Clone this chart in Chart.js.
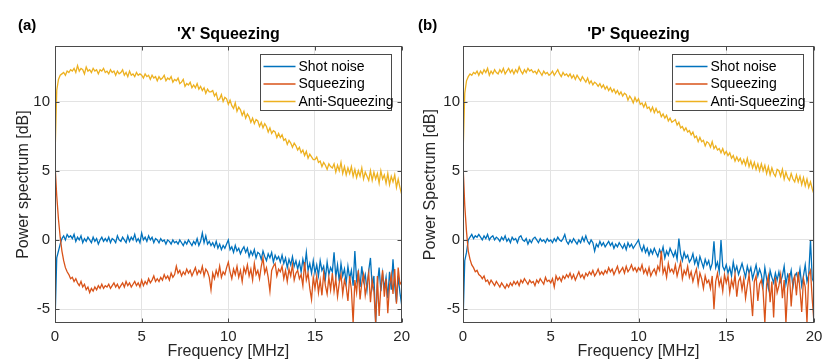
<!DOCTYPE html>
<html lang="en">
<head>
<meta charset="UTF-8">
<title>X and P squeezing spectra</title>
<style>
  body { margin: 0; background: #fff; }
  #wrap { position: relative; width: 830px; height: 363px; }
  canvas { position: absolute; top: 0; }
  #chartX { left: 0; }
  #chartP { left: 415px; }
</style>
</head>
<body>
<div id="wrap">
  <canvas id="chartX" width="415" height="363"></canvas>
  <canvas id="chartP" width="415" height="363"></canvas>
</div>
<script src="https://cdn.jsdelivr.net/npm/chart.js"></script>
<script>
// frequency grid, 0..20 MHz in 0.1 MHz steps
const freq = Array.from({ length: 201 }, (_, i) => +(i * 0.1).toFixed(1));
const xTicks = [0, 5, 10, 15, 20];
const yTicks = [-5, 0, 5, 10];

// (a) 'X' squeezing, values in dB, one row per MHz
const shotX = [
  -6.0, -1.3, -0.8, -0.3, 0.1, 0.3, 0.0, 0.4, 0.2, 0.3,
  0.1, 0.4, -0.1, 0.2, 0.0, 0.3, -0.2, 0.1, -0.1, 0.2,
  0.0, -0.2, 0.2, -0.1, 0.1, -0.3, 0.0, 0.2, -0.1, 0.1,
  -0.1, 0.2, -0.2, 0.1, 0.0, -0.2, 0.3, 0.0, -0.1, 0.2,
  0.0, -0.2, 0.3, -0.1, 0.2, 0.0, 0.4, -0.1, 0.1, -0.2,
  0.5, 0.0, 0.2, -0.1, 0.3, 0.0, 0.2, -0.2, 0.1, 0.0,
  -0.2, 0.1, -0.1, 0.0, -0.3, 0.0, -0.1, -0.3, 0.0, -0.2,
  -0.1, -0.3, 0.0, -0.2, -0.4, -0.1, -0.3, 0.0, -0.2, -0.4,
  -0.1, -0.3, 0.1, -0.4, -0.1, 0.5, -0.2, 0.3, -0.3, -0.1,
  -0.4, -0.2, -0.5, -0.1, -0.6, -0.3, -0.7, -0.4, -0.6, -0.3,
  0.0, -0.7, -0.5, -0.9, -0.4, -0.8, -0.6, -1.0, -0.7, -0.5,
  -0.9, -0.6, -1.2, -0.8, -1.1, -0.7, -1.3, -0.9, -1.0, -1.4,
  -0.8, -1.2, -1.5, -1.0, -1.3, -0.9, -1.6, -1.1, -1.4, -1.2,
  -1.6, -1.1, -1.7, -1.3, -2.0, -1.4, -1.8, -1.2, -1.9, -1.5,
  -2.1, -1.6, -2.3, -1.4, -2.0, -0.9, -2.2, -1.7, -2.4, -1.5,
  -2.4, -1.8, -2.6, -1.5, -2.2, -1.9, -2.8, -1.6, -2.5, -2.0,
  -2.3, -0.9, -2.7, -1.8, -3.0, -1.7, -2.6, -2.1, -3.1, -1.9,
  -2.8, -2.2, -3.3, -0.8, -2.9, -2.3, -3.4, -1.9, -3.0, -2.5,
  -3.6, -2.2, -1.3, -3.4, -2.6, -6.0, -3.2, -2.0, -3.7, -2.4,
  -3.5, -2.7, -4.2, -2.3, -3.6, -1.4, -3.3, -4.5, -2.6, -3.8,
  -4.7
];
const squeezeX = [
  5.5, 3.2, 1.5, 0.2, -0.8, -1.5, -2.0, -2.3, -2.5, -2.8,
  -2.7, -3.0, -2.8, -3.1, -3.3, -3.0, -3.4, -3.2, -3.6, -3.4,
  -3.8, -3.5, -3.7, -3.4, -3.6, -3.3, -3.5, -3.2, -3.5, -3.3,
  -3.4, -3.2, -3.5, -3.3, -3.1, -3.4, -3.2, -3.5, -3.3, -3.1,
  -3.4, -3.0, -3.3, -3.1, -3.4, -3.2, -3.0, -3.3, -3.1, -3.4,
  -2.9, -3.3, -3.0, -3.2, -2.8, -3.1, -2.9, -2.6, -3.0, -2.8,
  -3.0, -2.7, -2.9, -2.5, -2.8, -2.6, -2.9, -2.4, -2.7, -2.5,
  -1.9, -2.4, -2.2, -2.6, -2.3, -2.5, -2.1, -2.4, -2.2, -2.6,
  -2.3, -2.0, -2.5, -2.2, -2.4, -1.9, -2.6, -2.1, -2.3, -2.7,
  -3.6, -2.4, -2.8, -2.2, -2.6, -1.9, -2.7, -2.3, -2.5, -2.0,
  -1.6, -2.3, -2.8, -2.1, -2.5, -1.9, -2.7, -2.2, -3.0, -2.0,
  -2.4, -1.8, -2.6, -2.1, -2.9, -1.7, -2.5, -2.2, -2.8, -1.9,
  -1.3, -2.4, -2.0, -2.7, -3.7, -2.2, -1.9, -1.7, -2.6, -2.1,
  -2.3, -1.9, -2.8, -2.2, -3.0, -2.1, -2.6, -1.8, -2.9, -2.4,
  -2.2, -2.8, -2.5, -3.3, -1.6, -2.9, -2.4, -3.5, -4.3, -2.7,
  -3.5, -2.6, -3.8, -2.9, -4.0, -2.4, -3.3, -3.9, -2.7, -3.6,
  -2.4, -3.7, -2.8, -4.1, -3.1, -2.5, -3.9, -2.9, -3.4, -4.4,
  -2.6, -3.6, -6.0, -2.9, -3.8, -2.2, -4.3, -3.1, -2.5, -4.0,
  -3.2, -2.4, -4.5, -2.9, -3.7, -6.0, -2.6, -5.5, -3.4, -2.2,
  -4.1, -2.8, -5.3, -3.3, -2.5, -3.9, -2.1, -4.6, -2.0, -3.2,
  -3.0
];
const antiX = [
  6.0, 10.8, 11.6, 11.9, 12.0, 12.1, 11.9, 12.2, 12.1, 12.3,
  12.2, 12.4, 12.1, 12.6, 12.2, 12.4, 12.3, 12.0, 12.5, 12.2,
  12.3, 12.1, 12.4, 12.2, 12.3, 12.0, 12.3, 12.2, 12.4, 12.1,
  12.2, 12.0, 12.3, 12.1, 12.2, 11.9, 12.2, 12.0, 12.1, 12.3,
  11.9, 12.1, 11.8, 12.2, 11.9, 12.0, 11.8, 12.1, 11.9, 12.0,
  11.9, 11.7, 12.0, 11.8, 11.9, 11.6, 11.9, 11.7, 11.8, 11.5,
  11.8, 11.6, 11.7, 11.9, 11.5, 11.7, 11.6, 11.8, 11.4, 11.6,
  11.5, 11.7, 11.3, 11.4, 11.6, 11.1, 11.3, 11.2, 11.4, 11.0,
  11.2, 11.0, 11.3, 10.9, 11.1, 10.8, 11.0, 10.6, 10.9, 10.7,
  10.7, 10.8, 10.4, 10.6, 10.1, 10.2, 10.5, 10.0, 10.3, 10.2,
  9.8, 10.1, 9.7, 9.5, 9.9, 9.3, 9.6, 9.4, 9.0, 9.3,
  8.8, 9.1, 8.9, 8.5, 8.8, 8.4, 8.7, 8.6, 8.2, 8.5,
  8.1, 8.4, 8.2, 7.8, 8.1, 7.7, 7.9, 7.8, 7.4, 7.7,
  7.4, 7.6, 7.2, 7.3, 6.9, 7.2, 7.0, 6.7, 7.0, 6.8,
  6.5, 6.7, 6.3, 6.5, 6.1, 6.4, 5.9, 6.2, 6.0, 5.8,
  5.8, 6.0, 5.6, 5.7, 5.3, 5.6, 5.4, 5.1, 5.5, 5.3,
  5.2, 5.5, 4.9, 5.4, 5.0, 5.6, 4.8, 5.3, 4.7, 5.2,
  4.8, 5.3, 4.6, 5.1, 4.5, 5.0, 4.6, 5.2, 4.4, 4.9,
  4.6, 4.3, 5.0, 4.3, 4.9, 4.4, 4.8, 4.1, 5.0, 4.4,
  4.7, 4.1, 4.8, 4.0, 4.6, 4.2, 4.7, 3.8, 4.4, 3.8,
  3.3
];

// (b) 'P' squeezing
const shotP = [
  -6.0, -1.5, -0.9, 0.0, 0.2, 0.4, 0.1, 0.3, 0.2, 0.4,
  0.2, 0.0, 0.3, 0.1, 0.4, 0.0, 0.2, 0.3, 0.0, 0.2,
  0.1, -0.1, 0.2, 0.0, 0.3, -0.1, 0.1, -0.2, 0.2, 0.0,
  0.1, -0.2, 0.2, 0.3, 0.0, -0.1, 0.1, -0.3, 0.0, -0.2,
  0.1, 0.2, 0.0, -0.2, 0.1, -0.1, 0.0, -0.2, 0.1, -0.1,
  0.0, -0.2, 0.1, -0.1, 0.2, 0.0, -0.1, 0.1, 0.4, -0.1,
  -0.3, 0.0, -0.2, 0.1, -0.1, -0.3, 0.0, -0.2, 0.2, -0.1,
  0.3, -0.1, -0.3, 0.0, -0.2, -0.8, -0.3, -0.5, -0.1, -0.4,
  -0.2, -0.5, -0.3, -0.1, -0.4, -0.2, -0.6, -0.3, -0.5, -0.2,
  -0.4, -0.6, -0.3, -0.7, -0.2, -0.5, -0.3, -0.6, -0.4, -0.2,
  0.0, -0.5, -0.8, -0.4, -0.9, -0.6, -1.1, -0.7, -1.0, -0.6,
  -0.9, -1.2, -0.7, -1.0, -0.5, -1.3, -0.8, -1.1, -0.6, -0.9,
  -1.2, -0.8, -1.4, 0.1, -1.0, -1.5, -0.9, -1.3, -1.1, -1.6,
  -1.4, -1.0, -1.7, -1.3, -1.9, -1.2, -1.6, -2.0, -1.4, -1.8,
  -1.5, -2.1, -1.7, -0.1, -2.0, -1.6, -2.3, 0.0, -1.9, -2.2,
  -1.8, -2.4, -2.0, -2.6, -1.6, -2.3, -1.9, -2.5, -2.1, -1.7,
  -2.2, -2.7, -1.9, -2.4, -2.0, -2.8, -2.3, -1.8, -2.6, -2.1,
  -2.5, -3.3, -2.0, -2.8, -3.5, -2.2, -2.7, -3.1, -2.4, -2.9,
  -2.3, -3.0, -2.6, -1.9, -3.2, -2.5, -2.8, -2.2, -3.4, -2.6,
  -2.4, -2.9, -2.1, -3.3, -2.6, -1.8, -3.0, -2.5, 0.0, -2.8,
  -3.1
];
const squeezeP = [
  5.5, 2.5, 0.6, -0.8, -1.4, -1.8, -2.0, -2.3, -2.2, -2.5,
  -2.6, -2.8, -2.6, -3.0, -2.9, -3.2, -2.9, -3.1, -3.3, -3.0,
  -3.2, -3.4, -3.1, -3.3, -3.5, -3.2, -3.4, -3.1, -3.3, -3.0,
  -3.2, -3.0, -3.3, -2.9, -3.1, -2.8, -3.0, -3.2, -2.9, -3.1,
  -3.0, -3.3, -2.9, -3.1, -2.8, -3.0, -3.2, -2.7, -3.0, -2.9,
  -3.1, -2.8, -3.4, -2.6, -2.9, -2.7, -3.0, -2.6, -2.8, -2.5,
  -2.7, -2.4, -2.8, -2.5, -2.9, -2.6, -2.3, -2.7, -2.5, -2.8,
  -2.4, -2.6, -2.3, -2.5, -2.2, -2.6, -2.4, -2.1, -2.5, -2.3,
  -2.5, -2.2, -2.4, -2.0, -2.3, -2.1, -2.5, -2.2, -1.9, -2.4,
  -2.2, -2.0, -2.4, -1.9, -2.3, -2.1, -1.8, -2.2, -2.0, -2.3,
  -2.0, -2.2, -1.8, -2.4, -2.1, -2.5, -2.0, -2.6, -2.3, -2.1,
  -2.5, -1.9, -2.2, -0.8, -2.4, -2.0, -2.7, -1.7, -2.3, -2.1,
  -2.4, -1.8, -2.6, -2.1, -1.6, -2.8, -2.2, -2.5, -1.9, -2.7,
  -2.3, -3.0, -2.5, -2.1, -3.2, -2.4, -2.8, -3.5, -2.6, -3.1,
  -2.9, -3.5, -2.6, -5.0, -3.0, -2.4, -3.3, -2.8, -3.7, -2.5,
  -3.1, -2.6, -3.8, -2.9, -3.4, -2.5, -4.1, -3.0, -2.7, -3.6,
  -2.8, -4.2, -3.3, -2.5, -3.9, -5.5, -3.0, -2.6, -4.4, -3.2,
  -2.9, -3.7, -6.0, -3.2, -2.6, -4.5, -3.0, -5.6, -2.7, -3.8,
  -3.3, -2.5, -4.2, -2.9, -6.0, -3.5, -2.4, -4.8, -3.0, -2.6,
  -4.0, -2.3, -3.6, -5.2, -2.8, -3.4, -6.0, -2.5, -2.2, -4.3,
  -6.0
];
const antiP = [
  6.0, 10.6, 11.5, 11.8, 12.0, 11.9, 12.1, 12.0, 12.2, 11.9,
  12.2, 12.0, 12.3, 12.1, 12.4, 11.9, 12.2, 12.0, 12.3, 12.1,
  12.0, 12.3, 12.1, 12.4, 12.0, 12.2, 12.4, 12.1, 12.3, 12.0,
  12.3, 12.1, 12.5, 12.2, 12.0, 12.3, 12.1, 12.4, 12.2, 12.3,
  12.1, 12.2, 12.0, 12.3, 12.1, 11.9, 12.2, 12.0, 12.1, 11.9,
  12.0, 12.2, 11.9, 12.1, 12.3, 12.0, 11.8, 12.1, 11.9, 12.0,
  11.8, 12.0, 11.7, 11.9, 11.6, 11.9, 11.7, 11.5, 11.8, 11.6,
  11.4, 11.7, 11.3, 11.5, 11.2, 11.4, 11.3, 11.1, 11.3, 11.0,
  11.2, 10.9, 11.1, 10.8, 11.0, 10.7, 10.9, 10.6, 10.8, 10.5,
  10.7, 10.4, 10.6, 10.5, 10.1, 10.4, 10.2, 9.9, 10.3, 10.0,
  10.2, 9.8, 9.9, 9.6, 9.9, 9.5, 9.6, 9.3, 9.6, 9.2,
  9.5, 9.2, 9.3, 8.9, 9.1, 8.8, 9.0, 8.6, 8.8, 8.5,
  8.6, 8.7, 8.3, 8.5, 8.1, 8.2, 7.9, 8.1, 7.8, 7.9,
  7.6, 7.8, 7.4, 7.5, 7.1, 7.4, 7.1, 7.2, 6.8, 7.1,
  7.0, 6.7, 7.1, 6.6, 6.8, 6.5, 6.6, 6.3, 6.6, 6.2,
  6.4, 6.1, 6.3, 5.9, 6.1, 5.7, 6.0, 5.7, 5.9, 5.5,
  5.8, 5.4, 5.9, 5.3, 5.7, 5.2, 5.6, 5.1, 5.5, 5.0,
  5.5, 5.0, 5.4, 4.8, 5.3, 4.7, 5.2, 4.8, 4.6, 5.1,
  5.0, 4.6, 5.1, 4.4, 4.9, 4.5, 4.3, 4.8, 4.4, 4.2,
  4.7, 4.2, 4.6, 4.0, 4.5, 3.9, 4.4, 3.8, 4.2, 3.7,
  3.3
];

const FONT = '"Liberation Sans", Arial, Helvetica, sans-serif';
const TEXT = '#262626';
const AXIS = '#4a4a4a';

const pts = vals => freq.map((f, i) => ({ x: f, y: vals[i] }));

// box, inward ticks, legend inside the axes and the (a)/(b) tag
const framePlugin = {
  id: 'frame',
  afterDraw(chart, args, o) {
    const { ctx, chartArea: a, scales } = chart;
    const L = Math.round(a.left) + 0.5, R = Math.round(a.right) - 0.5;
    const T = Math.round(a.top) + 0.5, B = Math.round(a.bottom) - 0.5;
    ctx.save();
    ctx.strokeStyle = AXIS;
    ctx.lineWidth = 1;
    ctx.strokeRect(L, T, R - L, B - T);
    ctx.beginPath();
    xTicks.forEach(v => {
      const px = Math.round(scales.x.getPixelForValue(v)) + 0.5;
      ctx.moveTo(px, B); ctx.lineTo(px, B - 4);
      ctx.moveTo(px, T); ctx.lineTo(px, T + 4);
    });
    yTicks.forEach(v => {
      const py = Math.round(scales.y.getPixelForValue(v)) + 0.5;
      ctx.moveTo(L, py); ctx.lineTo(L + 4, py);
      ctx.moveTo(R, py); ctx.lineTo(R - 4, py);
    });
    ctx.stroke();

    // legend
    const lw = 131, lh = 56;
    const lx = Math.round(a.right - 11 - lw) + 0.5, ly = Math.round(a.top + 8) + 0.5;
    ctx.fillStyle = '#fff';
    ctx.fillRect(lx, ly, lw, lh);
    ctx.strokeStyle = AXIS;
    ctx.strokeRect(lx, ly, lw, lh);
    ctx.font = '14px ' + FONT;
    ctx.textBaseline = 'middle';
    ctx.textAlign = 'left';
    chart.data.datasets.forEach((ds, i) => {
      const y = ly + 12 + i * 17.5;
      ctx.strokeStyle = ds.borderColor;
      ctx.lineWidth = 1.5;
      ctx.beginPath();
      ctx.moveTo(lx + 3, y); ctx.lineTo(lx + 35, y);
      ctx.stroke();
      ctx.fillStyle = '#000';
      ctx.fillText(ds.label, lx + 38, y + 0.5);
    });

    ctx.font = 'bold 15px ' + FONT;
    ctx.fillStyle = '#000';
    ctx.fillText(o.tag, o.tagX, 26);
    ctx.restore();
  }
};

function makeChart(id, p) {
  return new Chart(document.getElementById(id), {
    type: 'line',
    data: {
      datasets: [
        { label: 'Shot noise', data: pts(p.shot), borderColor: '#0072BD', order: 3 },
        { label: 'Squeezing', data: pts(p.squeeze), borderColor: '#D95319', order: 2 },
        { label: 'Anti-Squeezing', data: pts(p.anti), borderColor: '#EDB120', order: 1 }
      ]
    },
    options: {
      responsive: false,
      animation: false,
      devicePixelRatio: 1,
      layout: { padding: { left: 0, right: p.padRight, top: 0, bottom: 0 } },
      elements: { point: { radius: 0 }, line: { borderWidth: 1.3, tension: 0, fill: false } },
      plugins: {
        legend: { display: false },
        tooltip: { enabled: false },
        title: {
          display: true, text: p.title, fullSize: false, color: '#000',
          font: { family: FONT, size: 16, weight: 'bold' },
          padding: { top: 25, bottom: 2 }
        },
        frame: { tag: p.tag, tagX: p.tagX }
      },
      scales: {
        x: {
          type: 'linear', min: 0, max: 20,
          afterBuildTicks: s => { s.ticks = xTicks.map(v => ({ value: v })); },
          afterFit: s => { s.height = 40; },
          grid: { color: '#e3e3e3', drawTicks: false },
          border: { display: false },
          ticks: { color: TEXT, font: { family: FONT, size: 15 }, padding: 5, maxRotation: 0, autoSkip: false },
          title: { display: true, text: 'Frequency [MHz]', color: TEXT, font: { family: FONT, size: 16 }, padding: { top: 0, bottom: 2 } }
        },
        y: {
          min: -6, max: 14,
          afterBuildTicks: s => { s.ticks = yTicks.map(v => ({ value: v })); },
          afterFit: s => { s.width = p.yWidth; },
          grid: { color: '#e3e3e3', drawTicks: false },
          border: { display: false },
          ticks: { color: TEXT, font: { family: FONT, size: 15 }, padding: p.yTickPad },
          title: { display: true, text: p.yTitle, color: TEXT, font: { family: FONT, size: 16 }, padding: { top: p.yTitlePad, bottom: 0 } }
        }
      }
    },
    plugins: [framePlugin]
  });
}

makeChart('chartX', {
  title: "'X' Squeezing", tag: '(a)', tagX: 18, yTitle: 'Power spectrum [dB]',
  shot: shotX, squeeze: squeezeX, anti: antiX,
  yWidth: 55, padRight: 8, yTickPad: 5, yTitlePad: 14
});
makeChart('chartP', {
  title: "'P' Squeezing", tag: '(b)', tagX: 3, yTitle: 'Power Spectrum [dB]',
  shot: shotP, squeeze: squeezeP, anti: antiP,
  yWidth: 48, padRight: 16, yTickPad: 3, yTitlePad: 6
});
</script>
</body>
</html>
